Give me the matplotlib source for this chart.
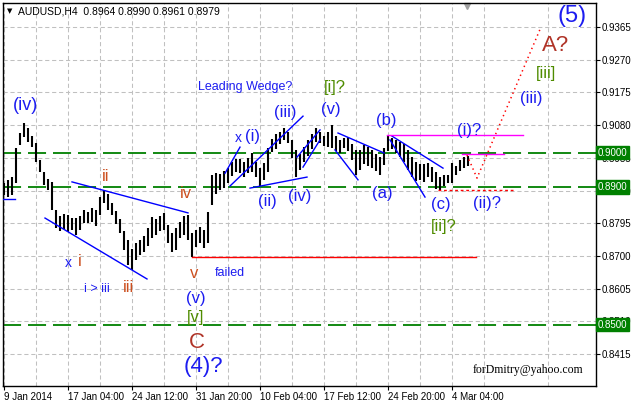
import numpy as np
import matplotlib.pyplot as plt
from matplotlib import transforms

plt.rcParams['font.family'] = ['Liberation Sans', 'DejaVu Sans']
plt.rcParams['lines.scale_dashes'] = False

# AUDUSD, one bar per 8 hours (every second H4 bar)
highs = [0.8912, 0.8921, 0.8929, 0.9013, 0.9057, 0.9086, 0.9072, 0.9048, 0.9028, 0.8979,
         0.8944, 0.8924, 0.8915, 0.8833, 0.8816, 0.8822, 0.8819, 0.8810, 0.8810, 0.8816,
         0.8833, 0.8827, 0.8839, 0.8833, 0.8871, 0.8892, 0.8880, 0.8854, 0.8831, 0.8807,
         0.8772, 0.8746, 0.8720, 0.8738, 0.8746, 0.8758, 0.8781, 0.8813, 0.8807, 0.8816,
         0.8825, 0.8790, 0.8767, 0.8781, 0.8798, 0.8816, 0.8819, 0.8767, 0.8775, 0.8784,
         0.8775, 0.8827, 0.8935, 0.8941, 0.8938, 0.8947, 0.8955, 0.8973, 0.8982, 0.8982,
         0.8973, 0.8984, 0.8999, 0.8973, 0.8955, 0.8970, 0.9013, 0.9040, 0.9054, 0.9060,
         0.9072, 0.9060, 0.9037, 0.9008, 0.8996, 0.9016, 0.9037, 0.9054, 0.9072, 0.9060,
         0.9048, 0.9060, 0.9080, 0.9048, 0.9037, 0.9043, 0.9045, 0.9025, 0.9008, 0.9008,
         0.9022, 0.9016, 0.9008, 0.8996, 0.8987, 0.9013, 0.9051, 0.9043, 0.9037, 0.9031,
         0.9025, 0.9008, 0.8987, 0.8973, 0.8967, 0.8967, 0.8970, 0.8958, 0.8944, 0.8929,
         0.8935, 0.8935, 0.8970, 0.8961, 0.8979, 0.8987, 0.8990]
lows = [0.8877, 0.8871, 0.8877, 0.8912, 0.9022, 0.9045, 0.9031, 0.9016, 0.8973, 0.8944,
        0.8906, 0.8892, 0.8833, 0.8781, 0.8772, 0.8778, 0.8769, 0.8775, 0.8761, 0.8775,
        0.8796, 0.8796, 0.8798, 0.8787, 0.8819, 0.8854, 0.8833, 0.8819, 0.8793, 0.8767,
        0.8717, 0.8674, 0.8659, 0.8688, 0.8703, 0.8711, 0.8729, 0.8752, 0.8761, 0.8772,
        0.8775, 0.8738, 0.8711, 0.8717, 0.8752, 0.8761, 0.8746, 0.8697, 0.8726, 0.8738,
        0.8723, 0.8738, 0.8848, 0.8880, 0.8892, 0.8897, 0.8912, 0.8932, 0.8944, 0.8941,
        0.8929, 0.8941, 0.8944, 0.8929, 0.8903, 0.8921, 0.8944, 0.9002, 0.9011, 0.9025,
        0.9037, 0.9028, 0.8984, 0.8929, 0.8950, 0.8973, 0.8990, 0.9011, 0.9031, 0.9028,
        0.9019, 0.9016, 0.9013, 0.9005, 0.8999, 0.9013, 0.9005, 0.8979, 0.8935, 0.8950,
        0.8967, 0.8961, 0.8955, 0.8947, 0.8935, 0.8964, 0.9005, 0.9011, 0.8999, 0.8987,
        0.8973, 0.8950, 0.8929, 0.8918, 0.8921, 0.8915, 0.8929, 0.8915, 0.8894, 0.8892,
        0.8903, 0.8912, 0.8912, 0.8935, 0.8947, 0.8955, 0.8961]
bar_pos = np.arange(len(highs)) * 2  # position counted in H4 bars

date_labels = ['9 Jan 2014', '17 Jan 04:00', '24 Jan 12:00', '31 Jan 20:00',
               '10 Feb 04:00', '17 Feb 12:00', '24 Feb 20:00', '4 Mar 04:00']
date_pos = [0, 32, 64, 96, 128, 160, 192, 224]
price_ticks = [0.9365, 0.9270, 0.9175, 0.9080, 0.8985, 0.8890,
               0.8795, 0.8700, 0.8605, 0.8510, 0.8415]
levels = [0.9000, 0.8900, 0.8500]

BLUE = '#1c1cf0'
ORANGE = '#cc5020'
BROWN = '#b03428'
OLIVE = '#4f8c00'

# analyst drawings: (x0, p0, x1, p1, colour)
drawings = [
    (-0.5, 0.8865, 5.5, 0.8865, 'blue'),
    (34, 0.8915, 92, 0.8825, 'blue'),
    (20.5, 0.8810, 71.5, 0.8633, 'blue'),
    (110.5, 0.8940, 118, 0.9016, 'blue'),
    (113, 0.8903, 149.5, 0.9106, 'blue'),
    (123, 0.8897, 151.5, 0.8929, 'blue'),
    (146.5, 0.8987, 158, 0.9066, 'blue'),
    (149.5, 0.8958, 158, 0.9037, 'blue'),
    (167, 0.9057, 190, 0.8999, 'blue'),
    (165.5, 0.9008, 177, 0.8921, 'blue'),
    (194, 0.9048, 219.5, 0.8955, 'blue'),
    (193, 0.9037, 210.5, 0.8871, 'blue'),
    (94, 0.8697, 236, 0.8697, 'red'),
    (191.5, 0.9051, 259.5, 0.9051, 'magenta'),
    (229, 0.8997, 250, 0.8997, 'magenta'),
]

labels = [
    ('(iv)', 10.5, 0.9138, BLUE, 13), ('ii', 51, 0.8932, ORANGE, 12),
    ('iv', 91, 0.8880, ORANGE, 12), ('x', 32, 0.8679, BLUE, 10),
    ('i', 38, 0.8685, ORANGE, 12), ('i > iii', 46.5, 0.8604, BLUE, 9),
    ('iii', 62.5, 0.8607, ORANGE, 12), ('v', 95, 0.8648, ORANGE, 12),
    ('failed', 113, 0.8651, BLUE, 9), ('(v)', 96, 0.8575, BLUE, 12),
    ('[v]', 96, 0.8520, OLIVE, 12), ('C', 96.5, 0.8449, BROWN, 16),
    ('(4)?', 99.5, 0.8379, BLUE, 16), ('Leading Wedge?', 120.5, 0.9191, BLUE, 9),
    ('x', 117, 0.9043, BLUE, 10), ('(i)', 124.5, 0.9048, BLUE, 12),
    ('(iii)', 140.5, 0.9118, BLUE, 12), ('(ii)', 131.5, 0.8857, BLUE, 12),
    ('(iv)', 148, 0.8874, BLUE, 12), ('(v)', 163.5, 0.9124, BLUE, 12),
    ('[i]?', 165.5, 0.9188, OLIVE, 12), ('(b)', 191, 0.9092, BLUE, 12),
    ('(a)', 189, 0.8880, BLUE, 12), ('(c)', 218.5, 0.8848, BLUE, 12),
    ('[ii]?', 220, 0.8784, OLIVE, 12), ('(i)?', 232.5, 0.9063, BLUE, 12),
    ('(ii)?', 241.5, 0.8851, BLUE, 12), ('(iii)', 263.5, 0.9156, BLUE, 12),
    ('[iii]', 271, 0.9229, OLIVE, 12), ('A?', 276, 0.9310, BROWN, 16),
    ('(5)', 284, 0.9397, BLUE, 17),
]

fig = plt.figure(figsize=(6.31, 4.04), dpi=100)
ax = fig.add_axes([3 / 631, 18 / 404, 593 / 631, 383 / 404])
ax.set_xlim(-0.5, 296)
ax.set_ylim(0.83221, 0.94347)

# grid
ax.set_xticks(date_pos)
ax.set_xticklabels(date_labels)
ax.set_xticks(np.arange(16, 296, 32), minor=True)
ax.set_yticks(price_ticks)
ax.set_yticklabels([f'{p:.4f}' for p in price_ticks])
ax.grid(True, which='both', color='#c0c0c0', linestyle=(0, (3, 2)), linewidth=0.75)
ax.set_axisbelow(True)

ax.yaxis.tick_right()
ax.tick_params(axis='y', direction='out', length=3, width=0.8, pad=1, labelsize=7)
ax.tick_params(axis='x', which='major', direction='out', length=3, width=0.8, pad=1, labelsize=7)
ax.tick_params(axis='x', which='minor', length=0)
for lab in ax.get_xticklabels():
    lab.set_ha('left')
for s in ax.spines.values():
    s.set_linewidth(1.0)
    s.set_color('black')

# price bars
ax.vlines(bar_pos, lows, highs, color='black', linewidth=1.5, zorder=3)

# horizontal levels with their price boxes on the right
for lvl in levels:
    ax.axhline(lvl, color='#008000', linewidth=1.3, dashes=(13, 5), zorder=2)
trans = transforms.blended_transform_factory(ax.transAxes, ax.transData)
for lvl in levels:
    ax.text(1.003, lvl, f'{lvl:.4f}', transform=trans, ha='left', va='center',
            color='white', fontsize=7, zorder=10, clip_on=False,
            bbox=dict(facecolor='#008000', edgecolor='#008000', pad=1.2))

for x0, p0, x1, p1, c in drawings:
    ax.plot([x0, x1], [p0, p1], color=c, linewidth=1.0, zorder=4)

# projected path and (c) level
ax.plot([217, 254.5], [0.8892, 0.8892], color='red', linestyle=(0, (2, 2)), linewidth=1, zorder=4)
ax.plot([231.5, 236.5, 268.5], [0.8993, 0.8926, 0.9365], color='red',
        linestyle=(0, (1, 2.5)), linewidth=1.1, zorder=4)

for txt, x, p, c, fs in labels:
    ax.text(x, p, txt, color=c, fontsize=fs, ha='center', va='center', zorder=6)

ax.text(0.007, 0.979, '\u25bc', transform=ax.transAxes, fontsize=5, va='center', ha='left',
        family='DejaVu Sans')
ax.text(0.026, 0.979, 'AUDUSD,H4  0.8964 0.8990 0.8961 0.8979', transform=ax.transAxes,
        fontsize=7.5, va='center', ha='left')
ax.plot([0.782], [0.993], marker='v', color='#a0a0a0', markersize=5, transform=ax.transAxes,
        clip_on=False)
ax.text(0.885, 0.042, 'forDmitry@yahoo.com', transform=ax.transAxes, fontsize=8.5,
        family='Liberation Serif', ha='center', va='center')

fig.savefig('out.png', dpi=100)
